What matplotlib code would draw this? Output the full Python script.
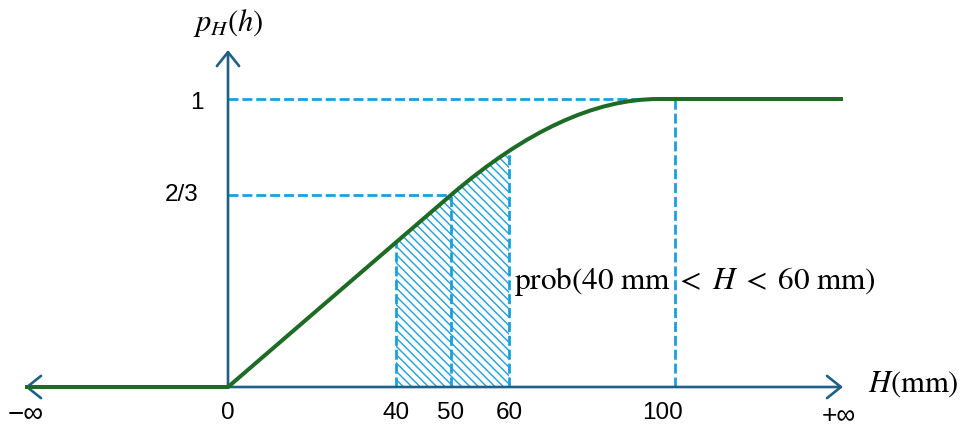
import numpy as np
import matplotlib
matplotlib.use("Agg")
import matplotlib.pyplot as plt
from matplotlib.path import Path
from matplotlib.patches import PathPatch, Rectangle

# ---------------- data ----------------
tick_H = [0, 40, 50, 60, 100]
tick_labels = ["0", "40", "50", "60", "100"]
p_levels = [2/3, 1]
p_labels = ["2/3", "1"]
# CDF outline: straight to (50, 2/3), then a smooth bend (control, end) to 1
curve_H = [0, 50, 73, 96]
curve_p = [0, 2/3, 1, 1]
prob_bounds = [40, 60]
prob_mid = 50

# ---------------- styles ----------------
AXC = "#1f5f88"
GREEN = "#1e6b26"
DASH = "#1ba0dc"
plt.rcParams["mathtext.fontset"] = "stix"
plt.rcParams["hatch.color"] = DASH
plt.rcParams["hatch.linewidth"] = 1.0
SANS = ["Liberation Sans", "DejaVu Sans"]

# schematic (not-to-scale) horizontal axis, piecewise linear
H_anchor = [-60, 0, 40, 50, 60, 100, 200]
u_anchor = [-40.2, 228, 396, 451, 509, 675, 1122]
fwd = lambda h: np.interp(h, H_anchor, u_anchor)
inv = lambda u: np.interp(u, u_anchor, H_anchor)

fig = plt.figure(figsize=(9.66, 4.28), dpi=100)
ax = fig.add_axes([0, 0, 1, 1])
ax.set_xscale("function", functions=(fwd, inv))
ax.set_xlim(inv(0), inv(966))
ax.set_ylim(-41/288, 387/288)
ax.axis("off")

x_left, x_right = inv(25), inv(843)
y_top = 1.17

# axes with arrows
ax.annotate("", xy=(x_right, 0), xytext=(x_left, 0),
            arrowprops=dict(arrowstyle="<->,head_length=0.5,head_width=0.4",
                            color=AXC, lw=1.9, shrinkA=0, shrinkB=0,
                            mutation_scale=20), zorder=2)
ax.annotate("", xy=(0, y_top), xytext=(0, 0),
            arrowprops=dict(arrowstyle="->,head_length=0.5,head_width=0.4",
                            color=AXC, lw=1.9, shrinkA=0, shrinkB=0,
                            mutation_scale=20), zorder=2)

# area under the curve (used as clip)
verts = [(curve_H[0], curve_p[0]), (curve_H[1], curve_p[1]),
         (curve_H[2], curve_p[2]), (curve_H[3], curve_p[3]),
         (curve_H[3], 0), (curve_H[0], 0)]
codes = [Path.MOVETO, Path.LINETO, Path.CURVE3, Path.CURVE3,
         Path.LINETO, Path.CLOSEPOLY]
area = PathPatch(Path(verts, codes), facecolor="none", edgecolor="none")
ax.add_patch(area)

# hatched probability region
rect = Rectangle((prob_bounds[0], 0), prob_bounds[1] - prob_bounds[0], 1,
                 facecolor="none", edgecolor=DASH, lw=0, hatch="\\" * 4,
                 zorder=1)
ax.add_patch(rect)
rect.set_clip_path(area)

dash_kw = dict(color=DASH, lw=2.0, dashes=(3.6, 1.4), zorder=1.5)
for h in prob_bounds + [prob_mid]:
    ln, = ax.plot([h, h], [0, 1], **dash_kw)
    ln.set_clip_path(area)
ax.plot([0, prob_mid], [p_levels[0]] * 2, **dash_kw)
ax.plot([0, tick_H[-1]], [p_levels[1]] * 2, **dash_kw)
ax.plot([tick_H[-1]] * 2, [0, p_levels[1]], **dash_kw)

# green CDF curve
cverts = verts[:4]
ccodes = codes[:4]
ax.add_patch(PathPatch(Path(cverts, ccodes), facecolor="none",
                       edgecolor=GREEN, lw=2.9, zorder=3, capstyle="round"))
ax.plot([x_left, 0], [0, 0], color=GREEN, lw=2.9, zorder=3,
        solid_capstyle="butt")
ax.plot([curve_H[3], x_right], [1, 1], color=GREEN, lw=2.9, zorder=3,
        solid_capstyle="butt")

# tick labels
FS = 17.5
ylab = -26/288
for h, lab in zip(tick_H, tick_labels):
    off = -12 if lab == "100" else 0
    ax.annotate(lab, xy=(h, ylab), xytext=(off, 0), textcoords="offset pixels",
                ha="center", va="center", fontsize=FS, family=SANS)
ax.text(inv(26), ylab - 2/288, "\u2212\u221e", ha="center", va="center",
        fontsize=20, family=SANS)
ax.text(inv(839), ylab - 3/288, "+\u221e", ha="center", va="center",
        fontsize=19, family=SANS)
ax.annotate(p_labels[1], xy=(0, p_levels[1]), xytext=(-31, -4),
            textcoords="offset pixels", ha="center", va="center",
            fontsize=FS, family=SANS)
ax.annotate(p_labels[0], xy=(0, p_levels[0]), xytext=(-46, 0),
            textcoords="offset pixels", ha="center", va="center",
            fontsize=FS, family=SANS)

# math labels
ax.text(0, 1.265, r"$p_H(h)$", ha="center", va="center", fontsize=22)
ax.text(inv(868), 0.01, r"$H(\mathrm{mm})$", ha="left", va="center",
        fontsize=22)
ax.text(inv(514), 0.365,
        r"$\mathrm{prob}(40\ \mathrm{mm}\;<\;H\;<\;60\ \mathrm{mm})$",
        ha="left", va="center", fontsize=22.5)

fig.savefig("out.png", dpi=100)
